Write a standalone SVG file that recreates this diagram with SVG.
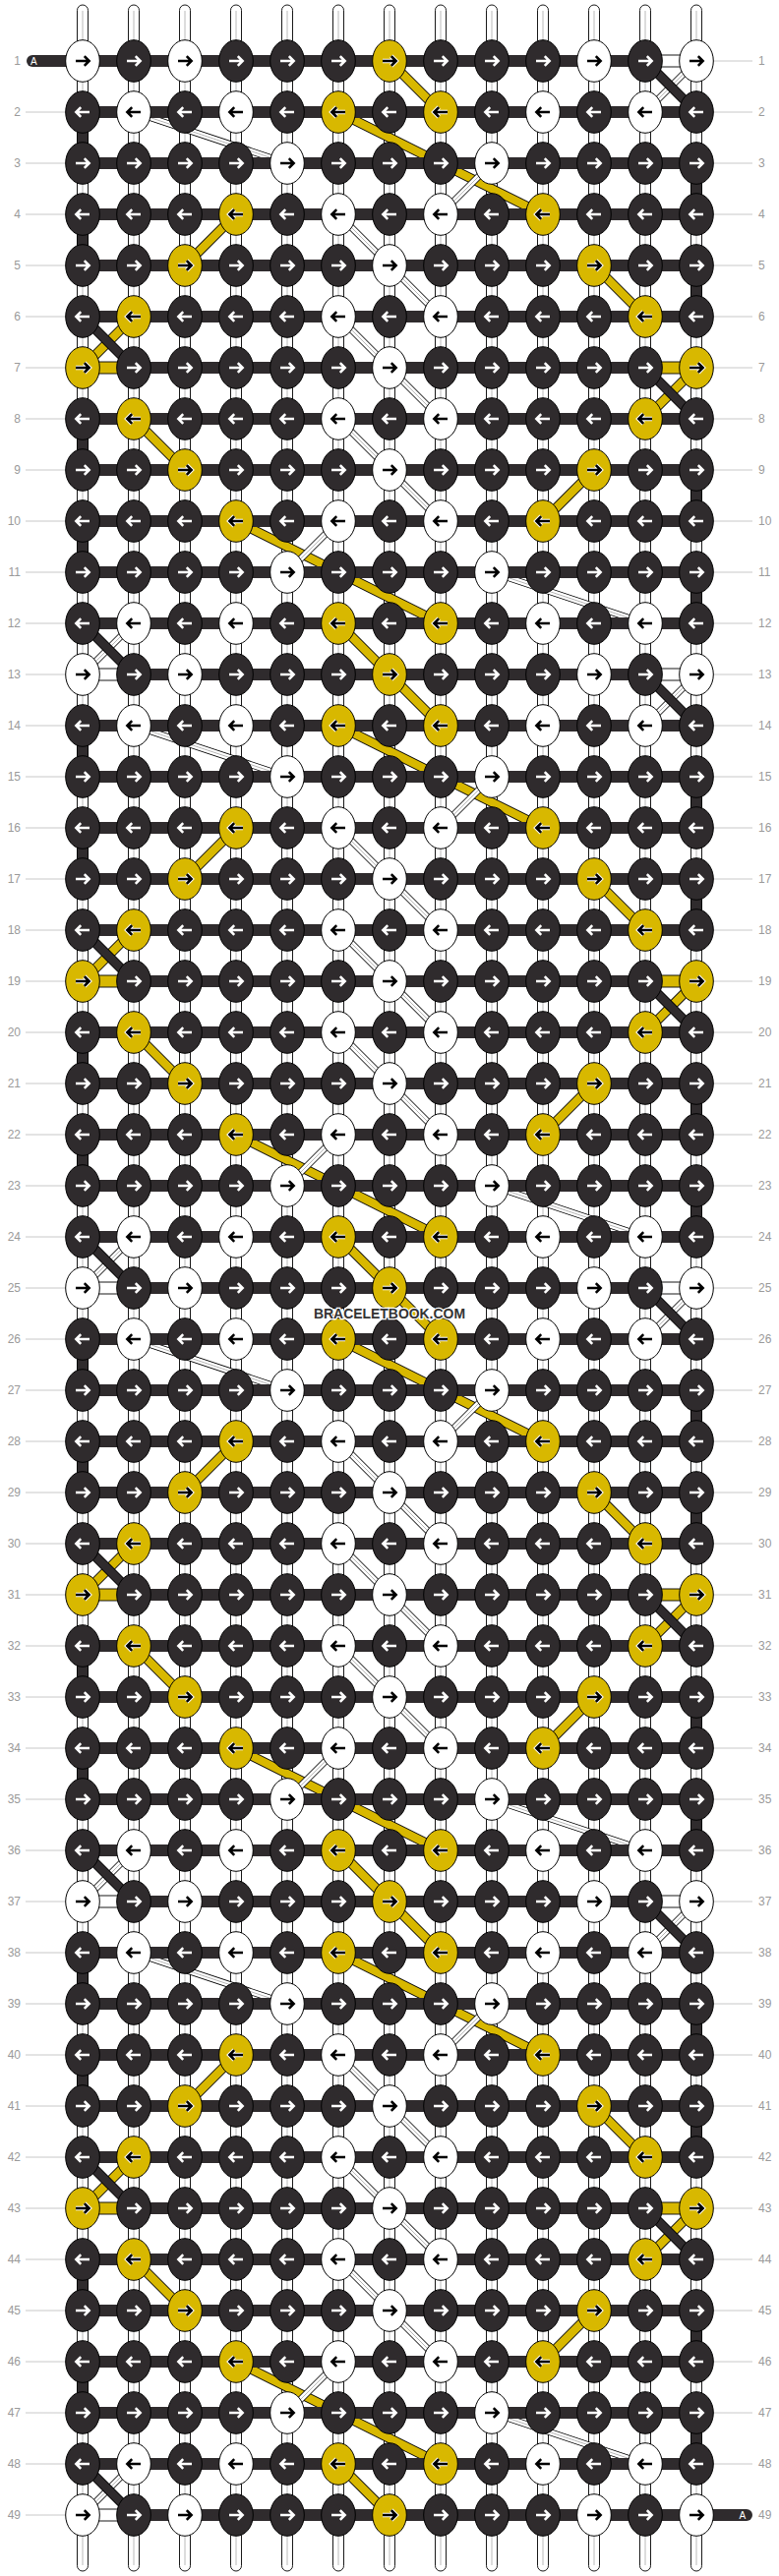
<svg xmlns="http://www.w3.org/2000/svg" width="792" height="2620" viewBox="0 0 792 2620">
<style>
.kd{fill:#2f2b2d;stroke:#000;stroke-width:1}
.kw{fill:#fff;stroke:#000;stroke-width:1}
.ky{fill:#d8b800;stroke:#000;stroke-width:1}
.aw{fill:none;stroke:#fff;stroke-width:2.6}
.ab{fill:none;stroke:#000;stroke-width:2.6}
.ao{fill:none;stroke:#fff;stroke-width:4.6}
.pw{fill:#fff;stroke:#000;stroke-width:.9}
.py{fill:#d8b800;stroke:#000;stroke-width:.9}
.pd{fill:#2f2b2d;stroke:#000;stroke-width:.9}
.pl{fill:none;stroke:#a8a8a8;stroke-width:.8}
.bar{fill:#2f2b2d}
.yo{fill:none;stroke:#000;stroke-width:10}
.yi{fill:none;stroke:#d8b800;stroke-width:8.2}
.wo{fill:none;stroke:#000;stroke-width:7}
.wi{fill:none;stroke:#fff;stroke-width:5.4}
.wc{fill:none;stroke:#999;stroke-width:.7}
.do{fill:none;stroke:#000;stroke-width:10}
.di{fill:none;stroke:#2f2b2d;stroke-width:8.2}
.l{font-family:"Liberation Sans",Arial,sans-serif;font-size:12px;fill:#9a9a9a}
.le{text-anchor:end}
.g{stroke:#c8c8c8;stroke-width:1}
.at{font-family:"Liberation Sans",Arial,sans-serif;font-size:10px;fill:#fff}
.wm{font-family:"Liberation Sans",Arial,sans-serif;font-size:14px;font-weight:bold;fill:#333;stroke:#fff;stroke-width:2.5;paint-order:stroke;text-anchor:middle}
</style>
<defs>
<ellipse id="k" rx="17.3" ry="21.3"/>
<path id="ar" d="M-7 0H6.3M1.8-4.8L6.6 0 1.8 4.8"/>
<path id="al" d="M7 0H-6.3M-1.8-4.8L-6.6 0-1.8 4.8"/>
<g id="dR"><use href="#k" class="kd"/><use href="#ar" class="aw"/></g>
<g id="dL"><use href="#k" class="kd"/><use href="#al" class="aw"/></g>
<g id="wR"><use href="#k" class="kw"/><use href="#ar" class="ab"/></g>
<g id="wL"><use href="#k" class="kw"/><use href="#al" class="ab"/></g>
<g id="yR"><use href="#k" class="ky"/><use href="#ar" class="ao"/><use href="#ar" class="ab"/></g>
<g id="yL"><use href="#k" class="ky"/><use href="#al" class="ao"/><use href="#al" class="ab"/></g>
<g id="tl"><g class="pw"><rect x="78.5" width="11" height="42" rx="5.5"/><rect x="130.5" width="11" height="42" rx="5.5"/><rect x="182.5" width="11" height="42" rx="5.5"/><rect x="234.5" width="11" height="42" rx="5.5"/><rect x="286.5" width="11" height="42" rx="5.5"/><rect x="338.5" width="11" height="42" rx="5.5"/><rect x="390.5" width="11" height="42" rx="5.5"/><rect x="442.5" width="11" height="42" rx="5.5"/><rect x="494.5" width="11" height="42" rx="5.5"/><rect x="546.5" width="11" height="42" rx="5.5"/><rect x="598.5" width="11" height="42" rx="5.5"/><rect x="650.5" width="11" height="42" rx="5.5"/><rect x="702.5" width="11" height="42" rx="5.5"/></g><path class="pl" d="M84 6V36M136 6V36M188 6V36M240 6V36M292 6V36M344 6V36M396 6V36M448 6V36M500 6V36M552 6V36M604 6V36M656 6V36M708 6V36"/></g>
<g id="vp"><g class="pw"><rect x="78.5" width="11" height="22"/><rect x="130.5" width="11" height="22"/><rect x="182.5" width="11" height="22"/><rect x="234.5" width="11" height="22"/><rect x="286.5" width="11" height="22"/><rect x="338.5" width="11" height="22"/><rect x="390.5" width="11" height="22"/><rect x="442.5" width="11" height="22"/><rect x="494.5" width="11" height="22"/><rect x="546.5" width="11" height="22"/><rect x="598.5" width="11" height="22"/><rect x="650.5" width="11" height="22"/><rect x="702.5" width="11" height="22"/></g><path class="pl" d="M84 0V22M136 0V22M188 0V22M240 0V22M292 0V22M344 0V22M396 0V22M448 0V22M500 0V22M552 0V22M604 0V22M656 0V22M708 0V22"/></g>
<path id="yl" d="M396 62L448 114M344 114L552 218M240 218L188 270M604 270L656 322M136 322L84 374M708 374L656 426M136 426L188 478M604 478L552 530M240 530L448 634M344 634L396 686"/>
<path id="wl" d="M708 62L656 114M136 114L292 166M500 166L448 218M344 218L448 322M344 322L448 426M344 426L448 530M344 530L292 582M500 582L656 634M136 634L84 686"/>
<path id="dl" d="M656 62L708 114M84 322L136 374M656 374L708 426M84 634L136 686"/>
<g id="PA"><g class="pd"><rect x="78.5" y="129" width="11" height="22"/><rect x="78.5" y="233" width="11" height="22"/><rect x="78.5" y="441" width="11" height="22"/><rect x="78.5" y="545" width="11" height="22"/><rect x="702.5" y="181" width="11" height="22"/><rect x="702.5" y="285" width="11" height="22"/><rect x="702.5" y="493" width="11" height="22"/><rect x="702.5" y="597" width="11" height="22"/></g><use href="#yl" class="yo"/><use href="#yl" class="yi"/><use href="#wl" class="wo"/><use href="#wl" class="wi"/><use href="#wl" class="wc"/></g>
<g id="PB"><rect class="pw" x="668" y="56" width="28" height="12"/><rect class="py" x="96" y="368" width="28" height="12"/><rect class="py" x="668" y="368" width="28" height="12"/><rect class="pw" x="96" y="680" width="28" height="12"/><use href="#dl" class="do"/><use href="#dl" class="di"/></g>
<rect id="hb" class="bar" x="84" width="624" height="12"/>
</defs>
<g id="connectors">
<use href="#tl" y="5"/><use href="#tl" y="2573"/>
<use href="#vp" y="77"/><use href="#vp" y="129"/><use href="#vp" y="181"/><use href="#vp" y="233"/><use href="#vp" y="285"/><use href="#vp" y="337"/><use href="#vp" y="389"/><use href="#vp" y="441"/><use href="#vp" y="493"/><use href="#vp" y="545"/><use href="#vp" y="597"/><use href="#vp" y="649"/><use href="#vp" y="701"/><use href="#vp" y="753"/><use href="#vp" y="805"/><use href="#vp" y="857"/><use href="#vp" y="909"/><use href="#vp" y="961"/><use href="#vp" y="1013"/><use href="#vp" y="1065"/><use href="#vp" y="1117"/><use href="#vp" y="1169"/><use href="#vp" y="1221"/><use href="#vp" y="1273"/><use href="#vp" y="1325"/><use href="#vp" y="1377"/><use href="#vp" y="1429"/><use href="#vp" y="1481"/><use href="#vp" y="1533"/><use href="#vp" y="1585"/><use href="#vp" y="1637"/><use href="#vp" y="1689"/><use href="#vp" y="1741"/><use href="#vp" y="1793"/><use href="#vp" y="1845"/><use href="#vp" y="1897"/><use href="#vp" y="1949"/><use href="#vp" y="2001"/><use href="#vp" y="2053"/><use href="#vp" y="2105"/><use href="#vp" y="2157"/><use href="#vp" y="2209"/><use href="#vp" y="2261"/><use href="#vp" y="2313"/><use href="#vp" y="2365"/><use href="#vp" y="2417"/><use href="#vp" y="2469"/><use href="#vp" y="2521"/>
<use href="#PA"/><use href="#PA" y="624"/><use href="#PA" y="1248"/><use href="#PA" y="1872"/>
<use href="#hb" y="56"/><use href="#hb" y="108"/><use href="#hb" y="160"/><use href="#hb" y="212"/><use href="#hb" y="264"/><use href="#hb" y="316"/><use href="#hb" y="368"/><use href="#hb" y="420"/><use href="#hb" y="472"/><use href="#hb" y="524"/><use href="#hb" y="576"/><use href="#hb" y="628"/><use href="#hb" y="680"/><use href="#hb" y="732"/><use href="#hb" y="784"/><use href="#hb" y="836"/><use href="#hb" y="888"/><use href="#hb" y="940"/><use href="#hb" y="992"/><use href="#hb" y="1044"/><use href="#hb" y="1096"/><use href="#hb" y="1148"/><use href="#hb" y="1200"/><use href="#hb" y="1252"/><use href="#hb" y="1304"/><use href="#hb" y="1356"/><use href="#hb" y="1408"/><use href="#hb" y="1460"/><use href="#hb" y="1512"/><use href="#hb" y="1564"/><use href="#hb" y="1616"/><use href="#hb" y="1668"/><use href="#hb" y="1720"/><use href="#hb" y="1772"/><use href="#hb" y="1824"/><use href="#hb" y="1876"/><use href="#hb" y="1928"/><use href="#hb" y="1980"/><use href="#hb" y="2032"/><use href="#hb" y="2084"/><use href="#hb" y="2136"/><use href="#hb" y="2188"/><use href="#hb" y="2240"/><use href="#hb" y="2292"/><use href="#hb" y="2344"/><use href="#hb" y="2396"/><use href="#hb" y="2448"/><use href="#hb" y="2500"/><use href="#hb" y="2552"/>
<path class="bar" d="M84 56H33a6 6 0 0 0 0 12H84z"/>
<path class="bar" d="M708 2552H759a6 6 0 0 1 0 12H708z"/>
<use href="#PB"/><use href="#PB" y="624"/><use href="#PB" y="1248"/><use href="#PB" y="1872"/>
</g>
<g id="ends"><text class="at" x="31" y="65.7">A</text><text class="at" x="751.5" y="2561.7">A</text></g>
<g id="rows">
<g id="row1" transform="translate(0,62)"><text class="l le" x="21" y="4.3">1</text><text class="l" x="771" y="4.3">1</text><path class="g" d="M725 0H765"/><g id="n1-0"><use href="#wR" x="84"/></g><g id="n1-1"><use href="#dR" x="136"/></g><g id="n1-2"><use href="#wR" x="188"/></g><g id="n1-3"><use href="#dR" x="240"/></g><g id="n1-4"><use href="#dR" x="292"/></g><g id="n1-5"><use href="#dR" x="344"/></g><g id="n1-6"><use href="#yR" x="396"/></g><g id="n1-7"><use href="#dR" x="448"/></g><g id="n1-8"><use href="#dR" x="500"/></g><g id="n1-9"><use href="#dR" x="552"/></g><g id="n1-10"><use href="#wR" x="604"/></g><g id="n1-11"><use href="#dR" x="656"/></g><g id="n1-12"><use href="#wR" x="708"/></g></g>
<g id="row2" transform="translate(0,114)"><text class="l le" x="21" y="4.3">2</text><text class="l" x="771" y="4.3">2</text><path class="g" d="M26 0H67M725 0H765"/><g id="n2-0"><use href="#dL" x="84"/></g><g id="n2-1"><use href="#wL" x="136"/></g><g id="n2-2"><use href="#dL" x="188"/></g><g id="n2-3"><use href="#wL" x="240"/></g><g id="n2-4"><use href="#dL" x="292"/></g><g id="n2-5"><use href="#yL" x="344"/></g><g id="n2-6"><use href="#dL" x="396"/></g><g id="n2-7"><use href="#yL" x="448"/></g><g id="n2-8"><use href="#dL" x="500"/></g><g id="n2-9"><use href="#wL" x="552"/></g><g id="n2-10"><use href="#dL" x="604"/></g><g id="n2-11"><use href="#wL" x="656"/></g><g id="n2-12"><use href="#dL" x="708"/></g></g>
<g id="row3" transform="translate(0,166)"><text class="l le" x="21" y="4.3">3</text><text class="l" x="771" y="4.3">3</text><path class="g" d="M26 0H67M725 0H765"/><g id="n3-0"><use href="#dR" x="84"/></g><g id="n3-1"><use href="#dR" x="136"/></g><g id="n3-2"><use href="#dR" x="188"/></g><g id="n3-3"><use href="#dR" x="240"/></g><g id="n3-4"><use href="#wR" x="292"/></g><g id="n3-5"><use href="#dR" x="344"/></g><g id="n3-6"><use href="#dR" x="396"/></g><g id="n3-7"><use href="#dR" x="448"/></g><g id="n3-8"><use href="#wR" x="500"/></g><g id="n3-9"><use href="#dR" x="552"/></g><g id="n3-10"><use href="#dR" x="604"/></g><g id="n3-11"><use href="#dR" x="656"/></g><g id="n3-12"><use href="#dR" x="708"/></g></g>
<g id="row4" transform="translate(0,218)"><text class="l le" x="21" y="4.3">4</text><text class="l" x="771" y="4.3">4</text><path class="g" d="M26 0H67M725 0H765"/><g id="n4-0"><use href="#dL" x="84"/></g><g id="n4-1"><use href="#dL" x="136"/></g><g id="n4-2"><use href="#dL" x="188"/></g><g id="n4-3"><use href="#yL" x="240"/></g><g id="n4-4"><use href="#dL" x="292"/></g><g id="n4-5"><use href="#wL" x="344"/></g><g id="n4-6"><use href="#dL" x="396"/></g><g id="n4-7"><use href="#wL" x="448"/></g><g id="n4-8"><use href="#dL" x="500"/></g><g id="n4-9"><use href="#yL" x="552"/></g><g id="n4-10"><use href="#dL" x="604"/></g><g id="n4-11"><use href="#dL" x="656"/></g><g id="n4-12"><use href="#dL" x="708"/></g></g>
<g id="row5" transform="translate(0,270)"><text class="l le" x="21" y="4.3">5</text><text class="l" x="771" y="4.3">5</text><path class="g" d="M26 0H67M725 0H765"/><g id="n5-0"><use href="#dR" x="84"/></g><g id="n5-1"><use href="#dR" x="136"/></g><g id="n5-2"><use href="#yR" x="188"/></g><g id="n5-3"><use href="#dR" x="240"/></g><g id="n5-4"><use href="#dR" x="292"/></g><g id="n5-5"><use href="#dR" x="344"/></g><g id="n5-6"><use href="#wR" x="396"/></g><g id="n5-7"><use href="#dR" x="448"/></g><g id="n5-8"><use href="#dR" x="500"/></g><g id="n5-9"><use href="#dR" x="552"/></g><g id="n5-10"><use href="#yR" x="604"/></g><g id="n5-11"><use href="#dR" x="656"/></g><g id="n5-12"><use href="#dR" x="708"/></g></g>
<g id="row6" transform="translate(0,322)"><text class="l le" x="21" y="4.3">6</text><text class="l" x="771" y="4.3">6</text><path class="g" d="M26 0H67M725 0H765"/><g id="n6-0"><use href="#dL" x="84"/></g><g id="n6-1"><use href="#yL" x="136"/></g><g id="n6-2"><use href="#dL" x="188"/></g><g id="n6-3"><use href="#dL" x="240"/></g><g id="n6-4"><use href="#dL" x="292"/></g><g id="n6-5"><use href="#wL" x="344"/></g><g id="n6-6"><use href="#dL" x="396"/></g><g id="n6-7"><use href="#wL" x="448"/></g><g id="n6-8"><use href="#dL" x="500"/></g><g id="n6-9"><use href="#dL" x="552"/></g><g id="n6-10"><use href="#dL" x="604"/></g><g id="n6-11"><use href="#yL" x="656"/></g><g id="n6-12"><use href="#dL" x="708"/></g></g>
<g id="row7" transform="translate(0,374)"><text class="l le" x="21" y="4.3">7</text><text class="l" x="771" y="4.3">7</text><path class="g" d="M26 0H67M725 0H765"/><g id="n7-0"><use href="#yR" x="84"/></g><g id="n7-1"><use href="#dR" x="136"/></g><g id="n7-2"><use href="#dR" x="188"/></g><g id="n7-3"><use href="#dR" x="240"/></g><g id="n7-4"><use href="#dR" x="292"/></g><g id="n7-5"><use href="#dR" x="344"/></g><g id="n7-6"><use href="#wR" x="396"/></g><g id="n7-7"><use href="#dR" x="448"/></g><g id="n7-8"><use href="#dR" x="500"/></g><g id="n7-9"><use href="#dR" x="552"/></g><g id="n7-10"><use href="#dR" x="604"/></g><g id="n7-11"><use href="#dR" x="656"/></g><g id="n7-12"><use href="#yR" x="708"/></g></g>
<g id="row8" transform="translate(0,426)"><text class="l le" x="21" y="4.3">8</text><text class="l" x="771" y="4.3">8</text><path class="g" d="M26 0H67M725 0H765"/><g id="n8-0"><use href="#dL" x="84"/></g><g id="n8-1"><use href="#yL" x="136"/></g><g id="n8-2"><use href="#dL" x="188"/></g><g id="n8-3"><use href="#dL" x="240"/></g><g id="n8-4"><use href="#dL" x="292"/></g><g id="n8-5"><use href="#wL" x="344"/></g><g id="n8-6"><use href="#dL" x="396"/></g><g id="n8-7"><use href="#wL" x="448"/></g><g id="n8-8"><use href="#dL" x="500"/></g><g id="n8-9"><use href="#dL" x="552"/></g><g id="n8-10"><use href="#dL" x="604"/></g><g id="n8-11"><use href="#yL" x="656"/></g><g id="n8-12"><use href="#dL" x="708"/></g></g>
<g id="row9" transform="translate(0,478)"><text class="l le" x="21" y="4.3">9</text><text class="l" x="771" y="4.3">9</text><path class="g" d="M26 0H67M725 0H765"/><g id="n9-0"><use href="#dR" x="84"/></g><g id="n9-1"><use href="#dR" x="136"/></g><g id="n9-2"><use href="#yR" x="188"/></g><g id="n9-3"><use href="#dR" x="240"/></g><g id="n9-4"><use href="#dR" x="292"/></g><g id="n9-5"><use href="#dR" x="344"/></g><g id="n9-6"><use href="#wR" x="396"/></g><g id="n9-7"><use href="#dR" x="448"/></g><g id="n9-8"><use href="#dR" x="500"/></g><g id="n9-9"><use href="#dR" x="552"/></g><g id="n9-10"><use href="#yR" x="604"/></g><g id="n9-11"><use href="#dR" x="656"/></g><g id="n9-12"><use href="#dR" x="708"/></g></g>
<g id="row10" transform="translate(0,530)"><text class="l le" x="21" y="4.3">10</text><text class="l" x="771" y="4.3">10</text><path class="g" d="M26 0H67M725 0H765"/><g id="n10-0"><use href="#dL" x="84"/></g><g id="n10-1"><use href="#dL" x="136"/></g><g id="n10-2"><use href="#dL" x="188"/></g><g id="n10-3"><use href="#yL" x="240"/></g><g id="n10-4"><use href="#dL" x="292"/></g><g id="n10-5"><use href="#wL" x="344"/></g><g id="n10-6"><use href="#dL" x="396"/></g><g id="n10-7"><use href="#wL" x="448"/></g><g id="n10-8"><use href="#dL" x="500"/></g><g id="n10-9"><use href="#yL" x="552"/></g><g id="n10-10"><use href="#dL" x="604"/></g><g id="n10-11"><use href="#dL" x="656"/></g><g id="n10-12"><use href="#dL" x="708"/></g></g>
<g id="row11" transform="translate(0,582)"><text class="l le" x="21" y="4.3">11</text><text class="l" x="771" y="4.3">11</text><path class="g" d="M26 0H67M725 0H765"/><g id="n11-0"><use href="#dR" x="84"/></g><g id="n11-1"><use href="#dR" x="136"/></g><g id="n11-2"><use href="#dR" x="188"/></g><g id="n11-3"><use href="#dR" x="240"/></g><g id="n11-4"><use href="#wR" x="292"/></g><g id="n11-5"><use href="#dR" x="344"/></g><g id="n11-6"><use href="#dR" x="396"/></g><g id="n11-7"><use href="#dR" x="448"/></g><g id="n11-8"><use href="#wR" x="500"/></g><g id="n11-9"><use href="#dR" x="552"/></g><g id="n11-10"><use href="#dR" x="604"/></g><g id="n11-11"><use href="#dR" x="656"/></g><g id="n11-12"><use href="#dR" x="708"/></g></g>
<g id="row12" transform="translate(0,634)"><text class="l le" x="21" y="4.3">12</text><text class="l" x="771" y="4.3">12</text><path class="g" d="M26 0H67M725 0H765"/><g id="n12-0"><use href="#dL" x="84"/></g><g id="n12-1"><use href="#wL" x="136"/></g><g id="n12-2"><use href="#dL" x="188"/></g><g id="n12-3"><use href="#wL" x="240"/></g><g id="n12-4"><use href="#dL" x="292"/></g><g id="n12-5"><use href="#yL" x="344"/></g><g id="n12-6"><use href="#dL" x="396"/></g><g id="n12-7"><use href="#yL" x="448"/></g><g id="n12-8"><use href="#dL" x="500"/></g><g id="n12-9"><use href="#wL" x="552"/></g><g id="n12-10"><use href="#dL" x="604"/></g><g id="n12-11"><use href="#wL" x="656"/></g><g id="n12-12"><use href="#dL" x="708"/></g></g>
<g id="row13" transform="translate(0,686)"><text class="l le" x="21" y="4.3">13</text><text class="l" x="771" y="4.3">13</text><path class="g" d="M26 0H67M725 0H765"/><g id="n13-0"><use href="#wR" x="84"/></g><g id="n13-1"><use href="#dR" x="136"/></g><g id="n13-2"><use href="#wR" x="188"/></g><g id="n13-3"><use href="#dR" x="240"/></g><g id="n13-4"><use href="#dR" x="292"/></g><g id="n13-5"><use href="#dR" x="344"/></g><g id="n13-6"><use href="#yR" x="396"/></g><g id="n13-7"><use href="#dR" x="448"/></g><g id="n13-8"><use href="#dR" x="500"/></g><g id="n13-9"><use href="#dR" x="552"/></g><g id="n13-10"><use href="#wR" x="604"/></g><g id="n13-11"><use href="#dR" x="656"/></g><g id="n13-12"><use href="#wR" x="708"/></g></g>
<g id="row14" transform="translate(0,738)"><text class="l le" x="21" y="4.3">14</text><text class="l" x="771" y="4.3">14</text><path class="g" d="M26 0H67M725 0H765"/><g id="n14-0"><use href="#dL" x="84"/></g><g id="n14-1"><use href="#wL" x="136"/></g><g id="n14-2"><use href="#dL" x="188"/></g><g id="n14-3"><use href="#wL" x="240"/></g><g id="n14-4"><use href="#dL" x="292"/></g><g id="n14-5"><use href="#yL" x="344"/></g><g id="n14-6"><use href="#dL" x="396"/></g><g id="n14-7"><use href="#yL" x="448"/></g><g id="n14-8"><use href="#dL" x="500"/></g><g id="n14-9"><use href="#wL" x="552"/></g><g id="n14-10"><use href="#dL" x="604"/></g><g id="n14-11"><use href="#wL" x="656"/></g><g id="n14-12"><use href="#dL" x="708"/></g></g>
<g id="row15" transform="translate(0,790)"><text class="l le" x="21" y="4.3">15</text><text class="l" x="771" y="4.3">15</text><path class="g" d="M26 0H67M725 0H765"/><g id="n15-0"><use href="#dR" x="84"/></g><g id="n15-1"><use href="#dR" x="136"/></g><g id="n15-2"><use href="#dR" x="188"/></g><g id="n15-3"><use href="#dR" x="240"/></g><g id="n15-4"><use href="#wR" x="292"/></g><g id="n15-5"><use href="#dR" x="344"/></g><g id="n15-6"><use href="#dR" x="396"/></g><g id="n15-7"><use href="#dR" x="448"/></g><g id="n15-8"><use href="#wR" x="500"/></g><g id="n15-9"><use href="#dR" x="552"/></g><g id="n15-10"><use href="#dR" x="604"/></g><g id="n15-11"><use href="#dR" x="656"/></g><g id="n15-12"><use href="#dR" x="708"/></g></g>
<g id="row16" transform="translate(0,842)"><text class="l le" x="21" y="4.3">16</text><text class="l" x="771" y="4.3">16</text><path class="g" d="M26 0H67M725 0H765"/><g id="n16-0"><use href="#dL" x="84"/></g><g id="n16-1"><use href="#dL" x="136"/></g><g id="n16-2"><use href="#dL" x="188"/></g><g id="n16-3"><use href="#yL" x="240"/></g><g id="n16-4"><use href="#dL" x="292"/></g><g id="n16-5"><use href="#wL" x="344"/></g><g id="n16-6"><use href="#dL" x="396"/></g><g id="n16-7"><use href="#wL" x="448"/></g><g id="n16-8"><use href="#dL" x="500"/></g><g id="n16-9"><use href="#yL" x="552"/></g><g id="n16-10"><use href="#dL" x="604"/></g><g id="n16-11"><use href="#dL" x="656"/></g><g id="n16-12"><use href="#dL" x="708"/></g></g>
<g id="row17" transform="translate(0,894)"><text class="l le" x="21" y="4.3">17</text><text class="l" x="771" y="4.3">17</text><path class="g" d="M26 0H67M725 0H765"/><g id="n17-0"><use href="#dR" x="84"/></g><g id="n17-1"><use href="#dR" x="136"/></g><g id="n17-2"><use href="#yR" x="188"/></g><g id="n17-3"><use href="#dR" x="240"/></g><g id="n17-4"><use href="#dR" x="292"/></g><g id="n17-5"><use href="#dR" x="344"/></g><g id="n17-6"><use href="#wR" x="396"/></g><g id="n17-7"><use href="#dR" x="448"/></g><g id="n17-8"><use href="#dR" x="500"/></g><g id="n17-9"><use href="#dR" x="552"/></g><g id="n17-10"><use href="#yR" x="604"/></g><g id="n17-11"><use href="#dR" x="656"/></g><g id="n17-12"><use href="#dR" x="708"/></g></g>
<g id="row18" transform="translate(0,946)"><text class="l le" x="21" y="4.3">18</text><text class="l" x="771" y="4.3">18</text><path class="g" d="M26 0H67M725 0H765"/><g id="n18-0"><use href="#dL" x="84"/></g><g id="n18-1"><use href="#yL" x="136"/></g><g id="n18-2"><use href="#dL" x="188"/></g><g id="n18-3"><use href="#dL" x="240"/></g><g id="n18-4"><use href="#dL" x="292"/></g><g id="n18-5"><use href="#wL" x="344"/></g><g id="n18-6"><use href="#dL" x="396"/></g><g id="n18-7"><use href="#wL" x="448"/></g><g id="n18-8"><use href="#dL" x="500"/></g><g id="n18-9"><use href="#dL" x="552"/></g><g id="n18-10"><use href="#dL" x="604"/></g><g id="n18-11"><use href="#yL" x="656"/></g><g id="n18-12"><use href="#dL" x="708"/></g></g>
<g id="row19" transform="translate(0,998)"><text class="l le" x="21" y="4.3">19</text><text class="l" x="771" y="4.3">19</text><path class="g" d="M26 0H67M725 0H765"/><g id="n19-0"><use href="#yR" x="84"/></g><g id="n19-1"><use href="#dR" x="136"/></g><g id="n19-2"><use href="#dR" x="188"/></g><g id="n19-3"><use href="#dR" x="240"/></g><g id="n19-4"><use href="#dR" x="292"/></g><g id="n19-5"><use href="#dR" x="344"/></g><g id="n19-6"><use href="#wR" x="396"/></g><g id="n19-7"><use href="#dR" x="448"/></g><g id="n19-8"><use href="#dR" x="500"/></g><g id="n19-9"><use href="#dR" x="552"/></g><g id="n19-10"><use href="#dR" x="604"/></g><g id="n19-11"><use href="#dR" x="656"/></g><g id="n19-12"><use href="#yR" x="708"/></g></g>
<g id="row20" transform="translate(0,1050)"><text class="l le" x="21" y="4.3">20</text><text class="l" x="771" y="4.3">20</text><path class="g" d="M26 0H67M725 0H765"/><g id="n20-0"><use href="#dL" x="84"/></g><g id="n20-1"><use href="#yL" x="136"/></g><g id="n20-2"><use href="#dL" x="188"/></g><g id="n20-3"><use href="#dL" x="240"/></g><g id="n20-4"><use href="#dL" x="292"/></g><g id="n20-5"><use href="#wL" x="344"/></g><g id="n20-6"><use href="#dL" x="396"/></g><g id="n20-7"><use href="#wL" x="448"/></g><g id="n20-8"><use href="#dL" x="500"/></g><g id="n20-9"><use href="#dL" x="552"/></g><g id="n20-10"><use href="#dL" x="604"/></g><g id="n20-11"><use href="#yL" x="656"/></g><g id="n20-12"><use href="#dL" x="708"/></g></g>
<g id="row21" transform="translate(0,1102)"><text class="l le" x="21" y="4.3">21</text><text class="l" x="771" y="4.3">21</text><path class="g" d="M26 0H67M725 0H765"/><g id="n21-0"><use href="#dR" x="84"/></g><g id="n21-1"><use href="#dR" x="136"/></g><g id="n21-2"><use href="#yR" x="188"/></g><g id="n21-3"><use href="#dR" x="240"/></g><g id="n21-4"><use href="#dR" x="292"/></g><g id="n21-5"><use href="#dR" x="344"/></g><g id="n21-6"><use href="#wR" x="396"/></g><g id="n21-7"><use href="#dR" x="448"/></g><g id="n21-8"><use href="#dR" x="500"/></g><g id="n21-9"><use href="#dR" x="552"/></g><g id="n21-10"><use href="#yR" x="604"/></g><g id="n21-11"><use href="#dR" x="656"/></g><g id="n21-12"><use href="#dR" x="708"/></g></g>
<g id="row22" transform="translate(0,1154)"><text class="l le" x="21" y="4.3">22</text><text class="l" x="771" y="4.3">22</text><path class="g" d="M26 0H67M725 0H765"/><g id="n22-0"><use href="#dL" x="84"/></g><g id="n22-1"><use href="#dL" x="136"/></g><g id="n22-2"><use href="#dL" x="188"/></g><g id="n22-3"><use href="#yL" x="240"/></g><g id="n22-4"><use href="#dL" x="292"/></g><g id="n22-5"><use href="#wL" x="344"/></g><g id="n22-6"><use href="#dL" x="396"/></g><g id="n22-7"><use href="#wL" x="448"/></g><g id="n22-8"><use href="#dL" x="500"/></g><g id="n22-9"><use href="#yL" x="552"/></g><g id="n22-10"><use href="#dL" x="604"/></g><g id="n22-11"><use href="#dL" x="656"/></g><g id="n22-12"><use href="#dL" x="708"/></g></g>
<g id="row23" transform="translate(0,1206)"><text class="l le" x="21" y="4.3">23</text><text class="l" x="771" y="4.3">23</text><path class="g" d="M26 0H67M725 0H765"/><g id="n23-0"><use href="#dR" x="84"/></g><g id="n23-1"><use href="#dR" x="136"/></g><g id="n23-2"><use href="#dR" x="188"/></g><g id="n23-3"><use href="#dR" x="240"/></g><g id="n23-4"><use href="#wR" x="292"/></g><g id="n23-5"><use href="#dR" x="344"/></g><g id="n23-6"><use href="#dR" x="396"/></g><g id="n23-7"><use href="#dR" x="448"/></g><g id="n23-8"><use href="#wR" x="500"/></g><g id="n23-9"><use href="#dR" x="552"/></g><g id="n23-10"><use href="#dR" x="604"/></g><g id="n23-11"><use href="#dR" x="656"/></g><g id="n23-12"><use href="#dR" x="708"/></g></g>
<g id="row24" transform="translate(0,1258)"><text class="l le" x="21" y="4.3">24</text><text class="l" x="771" y="4.3">24</text><path class="g" d="M26 0H67M725 0H765"/><g id="n24-0"><use href="#dL" x="84"/></g><g id="n24-1"><use href="#wL" x="136"/></g><g id="n24-2"><use href="#dL" x="188"/></g><g id="n24-3"><use href="#wL" x="240"/></g><g id="n24-4"><use href="#dL" x="292"/></g><g id="n24-5"><use href="#yL" x="344"/></g><g id="n24-6"><use href="#dL" x="396"/></g><g id="n24-7"><use href="#yL" x="448"/></g><g id="n24-8"><use href="#dL" x="500"/></g><g id="n24-9"><use href="#wL" x="552"/></g><g id="n24-10"><use href="#dL" x="604"/></g><g id="n24-11"><use href="#wL" x="656"/></g><g id="n24-12"><use href="#dL" x="708"/></g></g>
<g id="row25" transform="translate(0,1310)"><text class="l le" x="21" y="4.3">25</text><text class="l" x="771" y="4.3">25</text><path class="g" d="M26 0H67M725 0H765"/><g id="n25-0"><use href="#wR" x="84"/></g><g id="n25-1"><use href="#dR" x="136"/></g><g id="n25-2"><use href="#wR" x="188"/></g><g id="n25-3"><use href="#dR" x="240"/></g><g id="n25-4"><use href="#dR" x="292"/></g><g id="n25-5"><use href="#dR" x="344"/></g><g id="n25-6"><use href="#yR" x="396"/></g><g id="n25-7"><use href="#dR" x="448"/></g><g id="n25-8"><use href="#dR" x="500"/></g><g id="n25-9"><use href="#dR" x="552"/></g><g id="n25-10"><use href="#wR" x="604"/></g><g id="n25-11"><use href="#dR" x="656"/></g><g id="n25-12"><use href="#wR" x="708"/></g></g>
<g id="row26" transform="translate(0,1362)"><text class="l le" x="21" y="4.3">26</text><text class="l" x="771" y="4.3">26</text><path class="g" d="M26 0H67M725 0H765"/><g id="n26-0"><use href="#dL" x="84"/></g><g id="n26-1"><use href="#wL" x="136"/></g><g id="n26-2"><use href="#dL" x="188"/></g><g id="n26-3"><use href="#wL" x="240"/></g><g id="n26-4"><use href="#dL" x="292"/></g><g id="n26-5"><use href="#yL" x="344"/></g><g id="n26-6"><use href="#dL" x="396"/></g><g id="n26-7"><use href="#yL" x="448"/></g><g id="n26-8"><use href="#dL" x="500"/></g><g id="n26-9"><use href="#wL" x="552"/></g><g id="n26-10"><use href="#dL" x="604"/></g><g id="n26-11"><use href="#wL" x="656"/></g><g id="n26-12"><use href="#dL" x="708"/></g></g>
<g id="row27" transform="translate(0,1414)"><text class="l le" x="21" y="4.3">27</text><text class="l" x="771" y="4.3">27</text><path class="g" d="M26 0H67M725 0H765"/><g id="n27-0"><use href="#dR" x="84"/></g><g id="n27-1"><use href="#dR" x="136"/></g><g id="n27-2"><use href="#dR" x="188"/></g><g id="n27-3"><use href="#dR" x="240"/></g><g id="n27-4"><use href="#wR" x="292"/></g><g id="n27-5"><use href="#dR" x="344"/></g><g id="n27-6"><use href="#dR" x="396"/></g><g id="n27-7"><use href="#dR" x="448"/></g><g id="n27-8"><use href="#wR" x="500"/></g><g id="n27-9"><use href="#dR" x="552"/></g><g id="n27-10"><use href="#dR" x="604"/></g><g id="n27-11"><use href="#dR" x="656"/></g><g id="n27-12"><use href="#dR" x="708"/></g></g>
<g id="row28" transform="translate(0,1466)"><text class="l le" x="21" y="4.3">28</text><text class="l" x="771" y="4.3">28</text><path class="g" d="M26 0H67M725 0H765"/><g id="n28-0"><use href="#dL" x="84"/></g><g id="n28-1"><use href="#dL" x="136"/></g><g id="n28-2"><use href="#dL" x="188"/></g><g id="n28-3"><use href="#yL" x="240"/></g><g id="n28-4"><use href="#dL" x="292"/></g><g id="n28-5"><use href="#wL" x="344"/></g><g id="n28-6"><use href="#dL" x="396"/></g><g id="n28-7"><use href="#wL" x="448"/></g><g id="n28-8"><use href="#dL" x="500"/></g><g id="n28-9"><use href="#yL" x="552"/></g><g id="n28-10"><use href="#dL" x="604"/></g><g id="n28-11"><use href="#dL" x="656"/></g><g id="n28-12"><use href="#dL" x="708"/></g></g>
<g id="row29" transform="translate(0,1518)"><text class="l le" x="21" y="4.3">29</text><text class="l" x="771" y="4.3">29</text><path class="g" d="M26 0H67M725 0H765"/><g id="n29-0"><use href="#dR" x="84"/></g><g id="n29-1"><use href="#dR" x="136"/></g><g id="n29-2"><use href="#yR" x="188"/></g><g id="n29-3"><use href="#dR" x="240"/></g><g id="n29-4"><use href="#dR" x="292"/></g><g id="n29-5"><use href="#dR" x="344"/></g><g id="n29-6"><use href="#wR" x="396"/></g><g id="n29-7"><use href="#dR" x="448"/></g><g id="n29-8"><use href="#dR" x="500"/></g><g id="n29-9"><use href="#dR" x="552"/></g><g id="n29-10"><use href="#yR" x="604"/></g><g id="n29-11"><use href="#dR" x="656"/></g><g id="n29-12"><use href="#dR" x="708"/></g></g>
<g id="row30" transform="translate(0,1570)"><text class="l le" x="21" y="4.3">30</text><text class="l" x="771" y="4.3">30</text><path class="g" d="M26 0H67M725 0H765"/><g id="n30-0"><use href="#dL" x="84"/></g><g id="n30-1"><use href="#yL" x="136"/></g><g id="n30-2"><use href="#dL" x="188"/></g><g id="n30-3"><use href="#dL" x="240"/></g><g id="n30-4"><use href="#dL" x="292"/></g><g id="n30-5"><use href="#wL" x="344"/></g><g id="n30-6"><use href="#dL" x="396"/></g><g id="n30-7"><use href="#wL" x="448"/></g><g id="n30-8"><use href="#dL" x="500"/></g><g id="n30-9"><use href="#dL" x="552"/></g><g id="n30-10"><use href="#dL" x="604"/></g><g id="n30-11"><use href="#yL" x="656"/></g><g id="n30-12"><use href="#dL" x="708"/></g></g>
<g id="row31" transform="translate(0,1622)"><text class="l le" x="21" y="4.3">31</text><text class="l" x="771" y="4.3">31</text><path class="g" d="M26 0H67M725 0H765"/><g id="n31-0"><use href="#yR" x="84"/></g><g id="n31-1"><use href="#dR" x="136"/></g><g id="n31-2"><use href="#dR" x="188"/></g><g id="n31-3"><use href="#dR" x="240"/></g><g id="n31-4"><use href="#dR" x="292"/></g><g id="n31-5"><use href="#dR" x="344"/></g><g id="n31-6"><use href="#wR" x="396"/></g><g id="n31-7"><use href="#dR" x="448"/></g><g id="n31-8"><use href="#dR" x="500"/></g><g id="n31-9"><use href="#dR" x="552"/></g><g id="n31-10"><use href="#dR" x="604"/></g><g id="n31-11"><use href="#dR" x="656"/></g><g id="n31-12"><use href="#yR" x="708"/></g></g>
<g id="row32" transform="translate(0,1674)"><text class="l le" x="21" y="4.3">32</text><text class="l" x="771" y="4.3">32</text><path class="g" d="M26 0H67M725 0H765"/><g id="n32-0"><use href="#dL" x="84"/></g><g id="n32-1"><use href="#yL" x="136"/></g><g id="n32-2"><use href="#dL" x="188"/></g><g id="n32-3"><use href="#dL" x="240"/></g><g id="n32-4"><use href="#dL" x="292"/></g><g id="n32-5"><use href="#wL" x="344"/></g><g id="n32-6"><use href="#dL" x="396"/></g><g id="n32-7"><use href="#wL" x="448"/></g><g id="n32-8"><use href="#dL" x="500"/></g><g id="n32-9"><use href="#dL" x="552"/></g><g id="n32-10"><use href="#dL" x="604"/></g><g id="n32-11"><use href="#yL" x="656"/></g><g id="n32-12"><use href="#dL" x="708"/></g></g>
<g id="row33" transform="translate(0,1726)"><text class="l le" x="21" y="4.3">33</text><text class="l" x="771" y="4.3">33</text><path class="g" d="M26 0H67M725 0H765"/><g id="n33-0"><use href="#dR" x="84"/></g><g id="n33-1"><use href="#dR" x="136"/></g><g id="n33-2"><use href="#yR" x="188"/></g><g id="n33-3"><use href="#dR" x="240"/></g><g id="n33-4"><use href="#dR" x="292"/></g><g id="n33-5"><use href="#dR" x="344"/></g><g id="n33-6"><use href="#wR" x="396"/></g><g id="n33-7"><use href="#dR" x="448"/></g><g id="n33-8"><use href="#dR" x="500"/></g><g id="n33-9"><use href="#dR" x="552"/></g><g id="n33-10"><use href="#yR" x="604"/></g><g id="n33-11"><use href="#dR" x="656"/></g><g id="n33-12"><use href="#dR" x="708"/></g></g>
<g id="row34" transform="translate(0,1778)"><text class="l le" x="21" y="4.3">34</text><text class="l" x="771" y="4.3">34</text><path class="g" d="M26 0H67M725 0H765"/><g id="n34-0"><use href="#dL" x="84"/></g><g id="n34-1"><use href="#dL" x="136"/></g><g id="n34-2"><use href="#dL" x="188"/></g><g id="n34-3"><use href="#yL" x="240"/></g><g id="n34-4"><use href="#dL" x="292"/></g><g id="n34-5"><use href="#wL" x="344"/></g><g id="n34-6"><use href="#dL" x="396"/></g><g id="n34-7"><use href="#wL" x="448"/></g><g id="n34-8"><use href="#dL" x="500"/></g><g id="n34-9"><use href="#yL" x="552"/></g><g id="n34-10"><use href="#dL" x="604"/></g><g id="n34-11"><use href="#dL" x="656"/></g><g id="n34-12"><use href="#dL" x="708"/></g></g>
<g id="row35" transform="translate(0,1830)"><text class="l le" x="21" y="4.3">35</text><text class="l" x="771" y="4.3">35</text><path class="g" d="M26 0H67M725 0H765"/><g id="n35-0"><use href="#dR" x="84"/></g><g id="n35-1"><use href="#dR" x="136"/></g><g id="n35-2"><use href="#dR" x="188"/></g><g id="n35-3"><use href="#dR" x="240"/></g><g id="n35-4"><use href="#wR" x="292"/></g><g id="n35-5"><use href="#dR" x="344"/></g><g id="n35-6"><use href="#dR" x="396"/></g><g id="n35-7"><use href="#dR" x="448"/></g><g id="n35-8"><use href="#wR" x="500"/></g><g id="n35-9"><use href="#dR" x="552"/></g><g id="n35-10"><use href="#dR" x="604"/></g><g id="n35-11"><use href="#dR" x="656"/></g><g id="n35-12"><use href="#dR" x="708"/></g></g>
<g id="row36" transform="translate(0,1882)"><text class="l le" x="21" y="4.3">36</text><text class="l" x="771" y="4.3">36</text><path class="g" d="M26 0H67M725 0H765"/><g id="n36-0"><use href="#dL" x="84"/></g><g id="n36-1"><use href="#wL" x="136"/></g><g id="n36-2"><use href="#dL" x="188"/></g><g id="n36-3"><use href="#wL" x="240"/></g><g id="n36-4"><use href="#dL" x="292"/></g><g id="n36-5"><use href="#yL" x="344"/></g><g id="n36-6"><use href="#dL" x="396"/></g><g id="n36-7"><use href="#yL" x="448"/></g><g id="n36-8"><use href="#dL" x="500"/></g><g id="n36-9"><use href="#wL" x="552"/></g><g id="n36-10"><use href="#dL" x="604"/></g><g id="n36-11"><use href="#wL" x="656"/></g><g id="n36-12"><use href="#dL" x="708"/></g></g>
<g id="row37" transform="translate(0,1934)"><text class="l le" x="21" y="4.3">37</text><text class="l" x="771" y="4.3">37</text><path class="g" d="M26 0H67M725 0H765"/><g id="n37-0"><use href="#wR" x="84"/></g><g id="n37-1"><use href="#dR" x="136"/></g><g id="n37-2"><use href="#wR" x="188"/></g><g id="n37-3"><use href="#dR" x="240"/></g><g id="n37-4"><use href="#dR" x="292"/></g><g id="n37-5"><use href="#dR" x="344"/></g><g id="n37-6"><use href="#yR" x="396"/></g><g id="n37-7"><use href="#dR" x="448"/></g><g id="n37-8"><use href="#dR" x="500"/></g><g id="n37-9"><use href="#dR" x="552"/></g><g id="n37-10"><use href="#wR" x="604"/></g><g id="n37-11"><use href="#dR" x="656"/></g><g id="n37-12"><use href="#wR" x="708"/></g></g>
<g id="row38" transform="translate(0,1986)"><text class="l le" x="21" y="4.3">38</text><text class="l" x="771" y="4.3">38</text><path class="g" d="M26 0H67M725 0H765"/><g id="n38-0"><use href="#dL" x="84"/></g><g id="n38-1"><use href="#wL" x="136"/></g><g id="n38-2"><use href="#dL" x="188"/></g><g id="n38-3"><use href="#wL" x="240"/></g><g id="n38-4"><use href="#dL" x="292"/></g><g id="n38-5"><use href="#yL" x="344"/></g><g id="n38-6"><use href="#dL" x="396"/></g><g id="n38-7"><use href="#yL" x="448"/></g><g id="n38-8"><use href="#dL" x="500"/></g><g id="n38-9"><use href="#wL" x="552"/></g><g id="n38-10"><use href="#dL" x="604"/></g><g id="n38-11"><use href="#wL" x="656"/></g><g id="n38-12"><use href="#dL" x="708"/></g></g>
<g id="row39" transform="translate(0,2038)"><text class="l le" x="21" y="4.3">39</text><text class="l" x="771" y="4.3">39</text><path class="g" d="M26 0H67M725 0H765"/><g id="n39-0"><use href="#dR" x="84"/></g><g id="n39-1"><use href="#dR" x="136"/></g><g id="n39-2"><use href="#dR" x="188"/></g><g id="n39-3"><use href="#dR" x="240"/></g><g id="n39-4"><use href="#wR" x="292"/></g><g id="n39-5"><use href="#dR" x="344"/></g><g id="n39-6"><use href="#dR" x="396"/></g><g id="n39-7"><use href="#dR" x="448"/></g><g id="n39-8"><use href="#wR" x="500"/></g><g id="n39-9"><use href="#dR" x="552"/></g><g id="n39-10"><use href="#dR" x="604"/></g><g id="n39-11"><use href="#dR" x="656"/></g><g id="n39-12"><use href="#dR" x="708"/></g></g>
<g id="row40" transform="translate(0,2090)"><text class="l le" x="21" y="4.3">40</text><text class="l" x="771" y="4.3">40</text><path class="g" d="M26 0H67M725 0H765"/><g id="n40-0"><use href="#dL" x="84"/></g><g id="n40-1"><use href="#dL" x="136"/></g><g id="n40-2"><use href="#dL" x="188"/></g><g id="n40-3"><use href="#yL" x="240"/></g><g id="n40-4"><use href="#dL" x="292"/></g><g id="n40-5"><use href="#wL" x="344"/></g><g id="n40-6"><use href="#dL" x="396"/></g><g id="n40-7"><use href="#wL" x="448"/></g><g id="n40-8"><use href="#dL" x="500"/></g><g id="n40-9"><use href="#yL" x="552"/></g><g id="n40-10"><use href="#dL" x="604"/></g><g id="n40-11"><use href="#dL" x="656"/></g><g id="n40-12"><use href="#dL" x="708"/></g></g>
<g id="row41" transform="translate(0,2142)"><text class="l le" x="21" y="4.3">41</text><text class="l" x="771" y="4.3">41</text><path class="g" d="M26 0H67M725 0H765"/><g id="n41-0"><use href="#dR" x="84"/></g><g id="n41-1"><use href="#dR" x="136"/></g><g id="n41-2"><use href="#yR" x="188"/></g><g id="n41-3"><use href="#dR" x="240"/></g><g id="n41-4"><use href="#dR" x="292"/></g><g id="n41-5"><use href="#dR" x="344"/></g><g id="n41-6"><use href="#wR" x="396"/></g><g id="n41-7"><use href="#dR" x="448"/></g><g id="n41-8"><use href="#dR" x="500"/></g><g id="n41-9"><use href="#dR" x="552"/></g><g id="n41-10"><use href="#yR" x="604"/></g><g id="n41-11"><use href="#dR" x="656"/></g><g id="n41-12"><use href="#dR" x="708"/></g></g>
<g id="row42" transform="translate(0,2194)"><text class="l le" x="21" y="4.3">42</text><text class="l" x="771" y="4.3">42</text><path class="g" d="M26 0H67M725 0H765"/><g id="n42-0"><use href="#dL" x="84"/></g><g id="n42-1"><use href="#yL" x="136"/></g><g id="n42-2"><use href="#dL" x="188"/></g><g id="n42-3"><use href="#dL" x="240"/></g><g id="n42-4"><use href="#dL" x="292"/></g><g id="n42-5"><use href="#wL" x="344"/></g><g id="n42-6"><use href="#dL" x="396"/></g><g id="n42-7"><use href="#wL" x="448"/></g><g id="n42-8"><use href="#dL" x="500"/></g><g id="n42-9"><use href="#dL" x="552"/></g><g id="n42-10"><use href="#dL" x="604"/></g><g id="n42-11"><use href="#yL" x="656"/></g><g id="n42-12"><use href="#dL" x="708"/></g></g>
<g id="row43" transform="translate(0,2246)"><text class="l le" x="21" y="4.3">43</text><text class="l" x="771" y="4.3">43</text><path class="g" d="M26 0H67M725 0H765"/><g id="n43-0"><use href="#yR" x="84"/></g><g id="n43-1"><use href="#dR" x="136"/></g><g id="n43-2"><use href="#dR" x="188"/></g><g id="n43-3"><use href="#dR" x="240"/></g><g id="n43-4"><use href="#dR" x="292"/></g><g id="n43-5"><use href="#dR" x="344"/></g><g id="n43-6"><use href="#wR" x="396"/></g><g id="n43-7"><use href="#dR" x="448"/></g><g id="n43-8"><use href="#dR" x="500"/></g><g id="n43-9"><use href="#dR" x="552"/></g><g id="n43-10"><use href="#dR" x="604"/></g><g id="n43-11"><use href="#dR" x="656"/></g><g id="n43-12"><use href="#yR" x="708"/></g></g>
<g id="row44" transform="translate(0,2298)"><text class="l le" x="21" y="4.3">44</text><text class="l" x="771" y="4.3">44</text><path class="g" d="M26 0H67M725 0H765"/><g id="n44-0"><use href="#dL" x="84"/></g><g id="n44-1"><use href="#yL" x="136"/></g><g id="n44-2"><use href="#dL" x="188"/></g><g id="n44-3"><use href="#dL" x="240"/></g><g id="n44-4"><use href="#dL" x="292"/></g><g id="n44-5"><use href="#wL" x="344"/></g><g id="n44-6"><use href="#dL" x="396"/></g><g id="n44-7"><use href="#wL" x="448"/></g><g id="n44-8"><use href="#dL" x="500"/></g><g id="n44-9"><use href="#dL" x="552"/></g><g id="n44-10"><use href="#dL" x="604"/></g><g id="n44-11"><use href="#yL" x="656"/></g><g id="n44-12"><use href="#dL" x="708"/></g></g>
<g id="row45" transform="translate(0,2350)"><text class="l le" x="21" y="4.3">45</text><text class="l" x="771" y="4.3">45</text><path class="g" d="M26 0H67M725 0H765"/><g id="n45-0"><use href="#dR" x="84"/></g><g id="n45-1"><use href="#dR" x="136"/></g><g id="n45-2"><use href="#yR" x="188"/></g><g id="n45-3"><use href="#dR" x="240"/></g><g id="n45-4"><use href="#dR" x="292"/></g><g id="n45-5"><use href="#dR" x="344"/></g><g id="n45-6"><use href="#wR" x="396"/></g><g id="n45-7"><use href="#dR" x="448"/></g><g id="n45-8"><use href="#dR" x="500"/></g><g id="n45-9"><use href="#dR" x="552"/></g><g id="n45-10"><use href="#yR" x="604"/></g><g id="n45-11"><use href="#dR" x="656"/></g><g id="n45-12"><use href="#dR" x="708"/></g></g>
<g id="row46" transform="translate(0,2402)"><text class="l le" x="21" y="4.3">46</text><text class="l" x="771" y="4.3">46</text><path class="g" d="M26 0H67M725 0H765"/><g id="n46-0"><use href="#dL" x="84"/></g><g id="n46-1"><use href="#dL" x="136"/></g><g id="n46-2"><use href="#dL" x="188"/></g><g id="n46-3"><use href="#yL" x="240"/></g><g id="n46-4"><use href="#dL" x="292"/></g><g id="n46-5"><use href="#wL" x="344"/></g><g id="n46-6"><use href="#dL" x="396"/></g><g id="n46-7"><use href="#wL" x="448"/></g><g id="n46-8"><use href="#dL" x="500"/></g><g id="n46-9"><use href="#yL" x="552"/></g><g id="n46-10"><use href="#dL" x="604"/></g><g id="n46-11"><use href="#dL" x="656"/></g><g id="n46-12"><use href="#dL" x="708"/></g></g>
<g id="row47" transform="translate(0,2454)"><text class="l le" x="21" y="4.3">47</text><text class="l" x="771" y="4.3">47</text><path class="g" d="M26 0H67M725 0H765"/><g id="n47-0"><use href="#dR" x="84"/></g><g id="n47-1"><use href="#dR" x="136"/></g><g id="n47-2"><use href="#dR" x="188"/></g><g id="n47-3"><use href="#dR" x="240"/></g><g id="n47-4"><use href="#wR" x="292"/></g><g id="n47-5"><use href="#dR" x="344"/></g><g id="n47-6"><use href="#dR" x="396"/></g><g id="n47-7"><use href="#dR" x="448"/></g><g id="n47-8"><use href="#wR" x="500"/></g><g id="n47-9"><use href="#dR" x="552"/></g><g id="n47-10"><use href="#dR" x="604"/></g><g id="n47-11"><use href="#dR" x="656"/></g><g id="n47-12"><use href="#dR" x="708"/></g></g>
<g id="row48" transform="translate(0,2506)"><text class="l le" x="21" y="4.3">48</text><text class="l" x="771" y="4.3">48</text><path class="g" d="M26 0H67M725 0H765"/><g id="n48-0"><use href="#dL" x="84"/></g><g id="n48-1"><use href="#wL" x="136"/></g><g id="n48-2"><use href="#dL" x="188"/></g><g id="n48-3"><use href="#wL" x="240"/></g><g id="n48-4"><use href="#dL" x="292"/></g><g id="n48-5"><use href="#yL" x="344"/></g><g id="n48-6"><use href="#dL" x="396"/></g><g id="n48-7"><use href="#yL" x="448"/></g><g id="n48-8"><use href="#dL" x="500"/></g><g id="n48-9"><use href="#wL" x="552"/></g><g id="n48-10"><use href="#dL" x="604"/></g><g id="n48-11"><use href="#wL" x="656"/></g><g id="n48-12"><use href="#dL" x="708"/></g></g>
<g id="row49" transform="translate(0,2558)"><text class="l le" x="21" y="4.3">49</text><text class="l" x="771" y="4.3">49</text><path class="g" d="M26 0H67"/><g id="n49-0"><use href="#wR" x="84"/></g><g id="n49-1"><use href="#dR" x="136"/></g><g id="n49-2"><use href="#wR" x="188"/></g><g id="n49-3"><use href="#dR" x="240"/></g><g id="n49-4"><use href="#dR" x="292"/></g><g id="n49-5"><use href="#dR" x="344"/></g><g id="n49-6"><use href="#yR" x="396"/></g><g id="n49-7"><use href="#dR" x="448"/></g><g id="n49-8"><use href="#dR" x="500"/></g><g id="n49-9"><use href="#dR" x="552"/></g><g id="n49-10"><use href="#wR" x="604"/></g><g id="n49-11"><use href="#dR" x="656"/></g><g id="n49-12"><use href="#wR" x="708"/></g></g>
</g>
<text class="wm" x="396" y="1341" textLength="154" lengthAdjust="spacingAndGlyphs">BRACELETBOOK.COM</text>
</svg>
